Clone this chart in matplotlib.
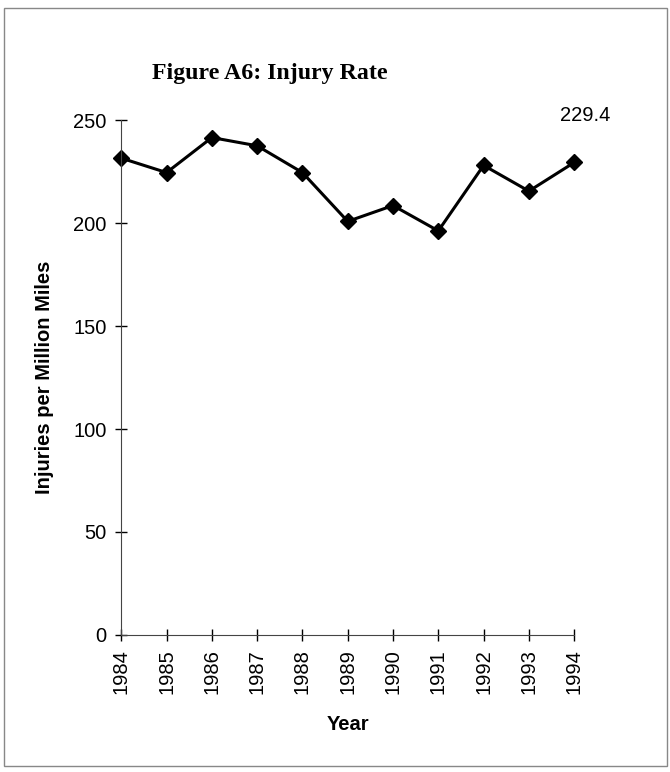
import matplotlib.pyplot as plt
from matplotlib.patches import Rectangle

years = [1984, 1985, 1986, 1987, 1988, 1989, 1990, 1991, 1992, 1993, 1994]
injury_rate = [231.5, 224.5, 241.5, 237.5, 224.5, 200.8, 208.5, 196.2, 228.0, 215.5, 229.4]
y_ticks = [0, 50, 100, 150, 200, 250]

plt.rcParams['font.family'] = ['Liberation Sans', 'DejaVu Sans']

fig = plt.figure(figsize=(6.7, 7.72), dpi=100)
ax = fig.add_axes([0.181, 0.1775, 0.676, 0.667])

ax.plot(years, injury_rate, color='black', linewidth=2.2, marker='D',
        markersize=8, markerfacecolor='black', markeredgecolor='black', clip_on=False)

ax.set_xlim(years[0], years[-1])
ax.set_ylim(0, 250)
ax.set_xticks(years)
ax.set_xticklabels([str(y) for y in years], rotation=90)
ax.set_yticks(y_ticks)
ax.tick_params(axis='both', direction='inout', length=9, width=1, labelsize=14.5, pad=6)

for s in ['top', 'right']:
    ax.spines[s].set_visible(False)
ax.spines['left'].set_color('#444444')
ax.spines['bottom'].set_color('#444444')

ax.set_ylabel('Injuries per Million Miles', fontsize=14.5, fontweight='bold', labelpad=14)
ax.set_xlabel('Year', fontsize=14.5, fontweight='bold', labelpad=15)

# value label for the last year, above and right of the last point
ax.annotate(f'{injury_rate[-1]:.1f}', xy=(years[-1], injury_rate[-1]), xytext=(26, 34),
            textcoords='offset points', ha='right', va='center', fontsize=14.5,
            annotation_clip=False)

fig.text(0.403, 0.905, 'Figure A6: Injury Rate', ha='center', va='center',
         fontsize=17.2, fontweight='bold', family='Liberation Serif')

fig.patches.append(Rectangle((0.006, 0.008), 0.99, 0.981, transform=fig.transFigure,
                             fill=False, edgecolor='#888888', linewidth=1))

fig.savefig('out.png', dpi=100)
